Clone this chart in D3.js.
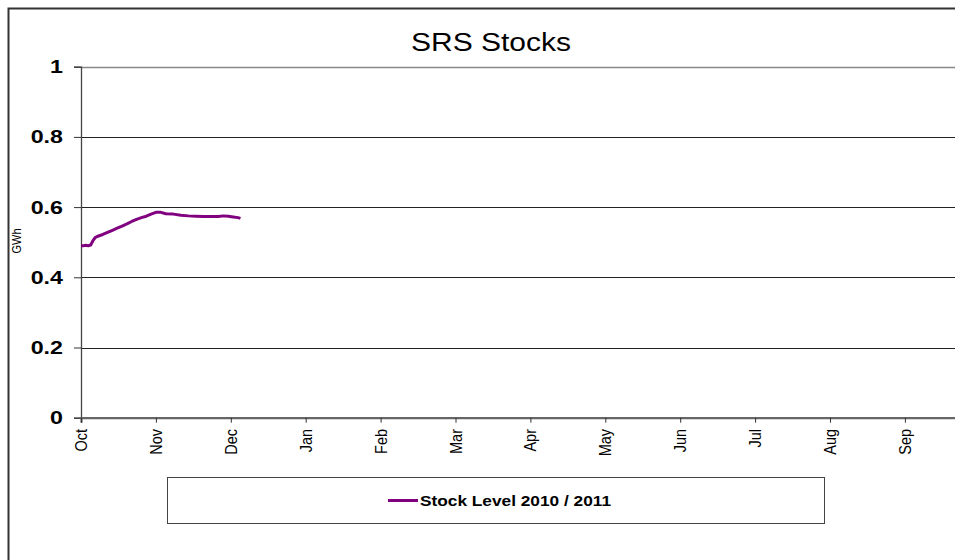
<!DOCTYPE html>
<html><head><meta charset="utf-8">
<script src="https://cdn.jsdelivr.net/npm/d3@7"></script>
<style>
html,body{margin:0;padding:0;background:#fff;overflow:hidden;}
text{font-family:"Liberation Sans",Arial,sans-serif;fill:#000;}
</style></head>
<body><svg id="c" width="955" height="560"></svg>
<script>
// ---- data ----
const monthLabels = ["Oct","Nov","Dec","Jan","Feb","Mar","Apr","May","Jun","Jul","Aug","Sep"];
const monthStarts = ["2010-10-01","2010-11-01","2010-12-01","2011-01-01","2011-02-01","2011-03-01","2011-04-01","2011-05-01","2011-06-01","2011-07-01","2011-08-01","2011-09-01","2011-10-01"];
const dates = ["2010-10-01","2010-10-02","2010-10-03","2010-10-04","2010-10-05","2010-10-06","2010-10-07","2010-10-08","2010-10-10","2010-10-12","2010-10-14","2010-10-16","2010-10-18","2010-10-20","2010-10-22","2010-10-24","2010-10-26","2010-10-28","2010-10-30","2010-11-01","2010-11-03","2010-11-05","2010-11-08","2010-11-11","2010-11-14","2010-11-17","2010-11-20","2010-11-23","2010-11-26","2010-11-28","2010-11-30","2010-12-02","2010-12-04","2010-12-05"];
const stock = [0.490,0.490,0.491,0.490,0.492,0.505,0.514,0.517,0.522,0.528,0.534,0.540,0.546,0.552,0.559,0.565,0.570,0.574,0.580,0.585,0.585,0.581,0.580,0.577,0.575,0.574,0.573,0.573,0.573,0.575,0.574,0.572,0.570,0.568];
const yTicks = [0,0.2,0.4,0.6,0.8,1];
const seriesName = "Stock Level 2010 / 2011";
const chartTitle = "SRS Stocks";
const yTitle = "GWh";

(function(){
const svg = d3.select("#c");
const SX = 1.2; // horizontal text stretch seen in reference
const pLeft = 81, step = 74.9, pTop = 66.7, pBottom = 417.7;
const parse = d3.utcParse("%Y-%m-%d");
const x = d3.scaleUtc()
  .domain(monthStarts.map(parse))
  .range(monthStarts.map((d,i)=> pLeft + i*step));
const y = d3.scaleLinear().domain([0,1]).range([pBottom, pTop]);
const pRight = x(parse(monthStarts[12]));

// outer border
svg.append("rect").attr("x",8.5).attr("y",8.5).attr("width",1100).attr("height",700)
  .attr("fill","none").attr("stroke","#333").attr("stroke-width",2);

// title
svg.append("text").attr("transform",`translate(491,50.5) scale(${SX},1)`)
  .attr("text-anchor","middle").attr("font-size",25).text(chartTitle);

// gridlines
yTicks.filter(t=>t>0).forEach(t=>{
  svg.append("line").attr("x1",pLeft).attr("x2",pRight)
    .attr("y1",Math.round(y(t))+0.5).attr("y2",Math.round(y(t))+0.5)
    .attr("stroke", t===1 ? "#888" : "#222").attr("stroke-width", t===1 ? 1.6 : 1);
});

// y axis
const yAxis = d3.axisLeft(y).tickValues(yTicks).tickSize(7).tickFormat(d3.format("~g"));
const gy = svg.append("g").attr("transform",`translate(${pLeft},0)`).call(yAxis);
gy.select(".domain").attr("stroke","#444").attr("stroke-width",1.3);
gy.selectAll(".tick line").attr("stroke","#333");
gy.selectAll(".tick text").remove();
yTicks.forEach(t=>{
  svg.append("text").attr("transform",`translate(63,${y(t)+6.5}) scale(1.27,1)`)
    .attr("text-anchor","end").attr("font-size",18.3).attr("font-weight","bold")
    .text(d3.format("~g")(t));
});

// x axis
const xAxis = d3.axisBottom(x).tickValues(monthStarts.slice(0,12).map(parse)).tickSize(5).tickFormat("");
const gx = svg.append("g").attr("transform",`translate(0,${pBottom})`).call(xAxis);
gx.select(".domain").attr("stroke","#666").attr("stroke-width",2.2);
gx.selectAll(".tick line").attr("stroke","#333");
monthLabels.forEach((m,i)=>{
  const px = x(parse(monthStarts[i]));
  svg.append("text").attr("transform",`translate(${px+6},429) scale(${SX},1) rotate(-90)`)
    .attr("text-anchor","end").attr("font-size",14.5).text(m);
});

// y title
svg.append("text").attr("transform",`translate(21,241) scale(${SX},1) rotate(-90)`)
  .attr("text-anchor","middle").attr("font-size",11).text(yTitle);

// series line
const data = dates.map((d,i)=>({date:parse(d), v:stock[i]}));
svg.append("path").datum(data)
  .attr("fill","none").attr("stroke","#800080").attr("stroke-width",3)
  .attr("stroke-linejoin","round")
  .attr("d", d3.line().x(d=>x(d.date)).y(d=>y(d.v)));

// legend
svg.append("rect").attr("x",167.5).attr("y",477.5).attr("width",657).attr("height",46)
  .attr("fill","#fff").attr("stroke","#444").attr("stroke-width",1);
svg.append("line").attr("x1",388).attr("x2",418).attr("y1",500.5).attr("y2",500.5)
  .attr("stroke","#800080").attr("stroke-width",3);
svg.append("text").attr("transform",`translate(420,506) scale(${SX},1)`)
  .attr("font-size",14.4).attr("font-weight","bold").text(seriesName);
})();
</script></body></html>
